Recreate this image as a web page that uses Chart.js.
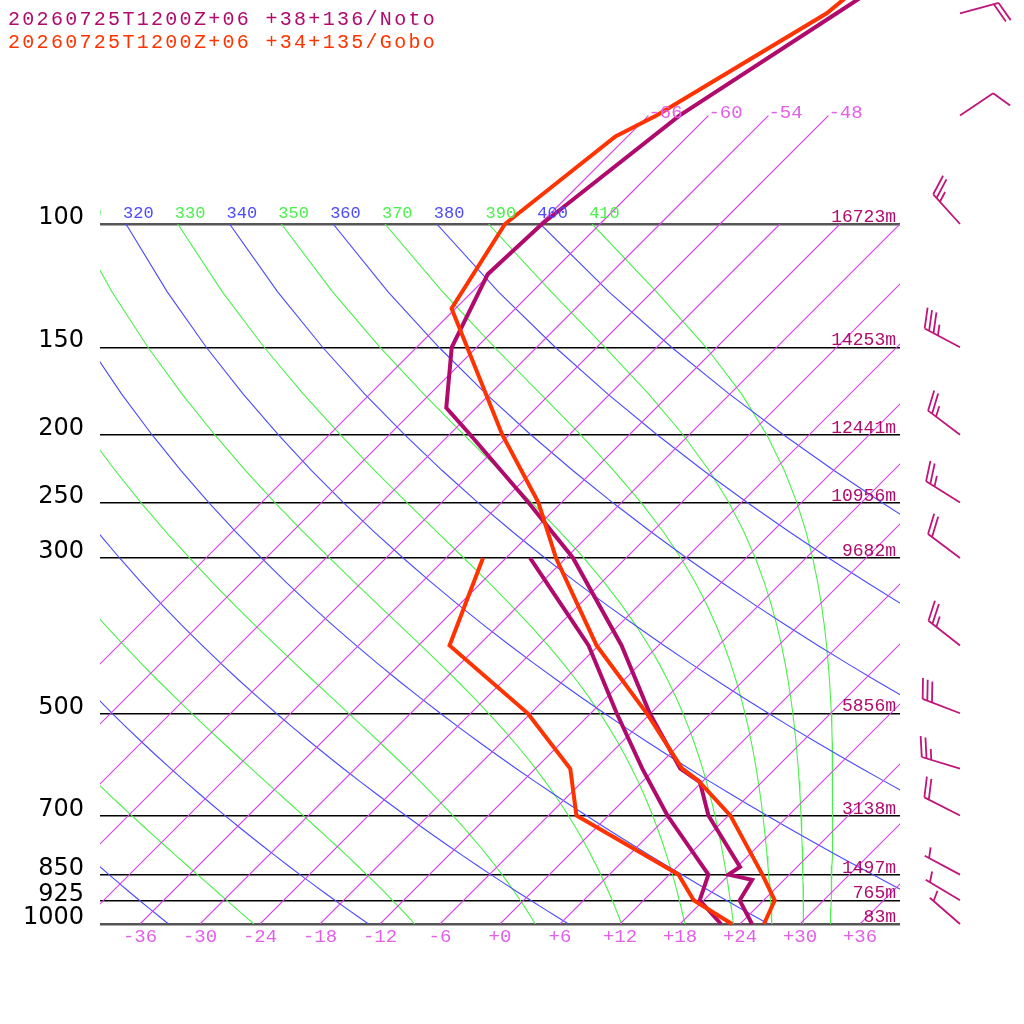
<!DOCTYPE html>
<html>
<head>
<meta charset="utf-8">
<script src="https://cdn.jsdelivr.net/npm/chart.js@4.4.1/dist/chart.umd.min.js"></script>
<style>
  html, body { margin: 0; padding: 0; background: #fff; }
  canvas { display: block; }
</style>
</head>
<body>
<canvas id="skewt" width="1024" height="1024"></canvas>
<script>
// --- данные ---
const titles = ['20260725T1200Z+06 +38+136/Noto', '20260725T1200Z+06 +34+135/Gobo'];

const levels = [1000, 925, 850, 700, 500, 300, 250, 200, 150, 100];
const levelHeights = ['83m', '765m', '1497m', '3138m', '5856m', '9682m', '10956m', '12441m', '14253m', '16723m'];

const tempTicks = [-36, -30, -24, -18, -12, -6, 0, 6, 12, 18, 24, 30, 36];
const isotherms = [-66, -60, -54, -48, -42, -36, -30, -24, -18, -12, -6, 0, 6, 12, 18, 24, 30, 36];
const upperIsotherms = [-66, -60, -54, -48];
const dryThetas = [240, 260, 280, 300, 320, 340, 360, 380, 400];
const moistThetas = [250, 270, 290, 310, 330, 350, 370, 390, 410];

// Noto (фиолетовый)
const notoTempP = [1000, 925, 865, 850, 829, 700, 627, 600, 500, 400, 300, 250, 200, 183, 150, 118, 100, 70, 50, 40];
const notoTemp  = [25.2, 21.6, 20.8, 17.9, 18.3, 10.0, 5.8, 2.5, -6.1, -15.7, -29.3, -39.3, -51.9, -57.0, -62.5, -66.2, -65.8, -62.9, -57.4, -53.8];
const notoDewP  = [1000, 925, 850, 700, 600, 500, 400, 300];
const notoDew   = [22.1, 17.6, 15.9, 5.9, -1.3, -9.4, -19.0, -33.6];

// Gobo (красный)
const goboTempP = [1000, 925, 850, 700, 623, 600, 500, 400, 300, 250, 200, 132, 100, 75, 70, 50, 40];
const goboTemp  = [26.4, 25.1, 21.3, 12.2, 5.4, 2.7, -6.4, -18.2, -31.0, -38.3, -48.7, -66.4, -69.5, -67.2, -65.2, -58.4, -56.9];
const goboDewP  = [1000, 925, 850, 700, 600, 500, 400, 300];
const goboDew   = [23.2, 17.0, 12.9, -3.2, -8.5, -18.3, -32.9, -38.3];

// ветер Noto: давление, направление (град), скорость (уз)
const windP   = [1000, 925, 850, 700, 600, 500, 400, 300, 250, 200, 150, 100, 70, 50];
const windDir = [311, 301, 298, 297, 287, 291, 308, 307, 302, 307, 298, 318, 56, 75];
const windSpd = [5, 5, 5, 20, 25, 30, 25, 20, 25, 25, 35, 25, 10, 20];

// --- оформление ---
const SKEW = 30.4;        // наклон изотерм 45 градусов
const KAPPA = 0.2857;
const BARB_X = 46;        // колонка ветра, в единицах оси x
const NOTO = '#b00a6c';
const GOBO = '#ff3300';
const ISO = 'rgb(214, 66, 232)';
const ISO_TXT = 'rgb(226, 96, 232)';
const DRY = '#4a4aff';
const MOIST = '#4cf04c';

function skewX(t, p) {
    return t + SKEW * Math.log(1000 / p);
}

function profile(ps, ts) {
    return ps.map((p, i) => ({ x: skewX(ts[i], p), y: p }));
}

function satVap(T) {
    const t = T - 273.15;
    return 6.112 * Math.exp(17.67 * t / (t + 243.5));
}

// псевдоадиабатический градиент dT/dp
function moistLapse(p, T) {
    const es = satVap(T);
    const rs = 0.622 * es / (p - es);
    const Lv = 2.501e6, Rd = 287.04, Cp = 1005.7;
    return (Rd * T + Lv * rs) / (Cp + Lv * Lv * rs * 0.622 / (Rd * T * T)) / p;
}

function moistAdiabat(theta) {
    let T = theta * Math.pow(0.1, KAPPA);
    const pts = [];
    for (let p = 100; p <= 1000; p++) {
        if (p % 25 === 0) pts.push({ x: skewX(T - 273.15, p), y: p });
        if (p === 1000) break;
        const k1 = moistLapse(p, T);
        const k2 = moistLapse(p + 0.5, T + 0.5 * k1);
        const k3 = moistLapse(p + 0.5, T + 0.5 * k2);
        const k4 = moistLapse(p + 1, T + k3);
        T += (k1 + 2 * k2 + 2 * k3 + k4) / 6;
    }
    return pts;
}

function dryAdiabat(theta) {
    const pts = [];
    for (let p = 1000; p >= 100; p -= 25) {
        pts.push({ x: skewX(theta * Math.pow(p / 1000, KAPPA) - 273.15, p), y: p });
    }
    return pts;
}

function bgLine(data, color, width) {
    return { data, borderColor: color, borderWidth: width, showLine: true, pointRadius: 0, order: 10 };
}

const datasets = [];
isotherms.forEach(t => datasets.push(bgLine([{ x: t, y: 1000 }, { x: skewX(t, 100), y: 100 }], ISO, 1.1)));
upperIsotherms.forEach(t => datasets.push(Object.assign(
    bgLine([{ x: skewX(t, 100), y: 100 }, { x: skewX(t, 70), y: 70 }], ISO, 1.1), { clip: false })));
dryThetas.forEach(th => datasets.push(bgLine(dryAdiabat(th), DRY, 1.1)));
moistThetas.forEach(th => datasets.push(bgLine(moistAdiabat(th), MOIST, 1.1)));

function sounding(data, color, order) {
    return { data, borderColor: color, borderWidth: 4, showLine: true, pointRadius: 0, clip: false, order };
}
datasets.push(sounding(profile(notoTempP, notoTemp), NOTO, 3));
datasets.push(sounding(profile(notoDewP, notoDew), NOTO, 3));
datasets.push(sounding(profile(goboTempP, goboTemp), GOBO, 2));
datasets.push(sounding(profile(goboDewP, goboDew), GOBO, 2));

// подписи, высоты, заголовки и ветер
const decor = {
    id: 'decor',
    afterDraw(chart) {
        const { ctx, chartArea: a, scales: { x, y } } = chart;
        const yTop = y.getPixelForValue(100);

        ctx.save();
        ctx.beginPath();
        ctx.rect(a.left, 0, a.right - a.left, a.top);
        ctx.clip();
        ctx.font = '17px "Liberation Mono", monospace';
        ctx.textAlign = 'left';
        ctx.textBaseline = 'alphabetic';
        dryThetas.forEach(th => {
            ctx.fillStyle = DRY;
            ctx.fillText(String(th), x.getPixelForValue(skewX(th * Math.pow(0.1, KAPPA) - 273.15, 100)) - 3, yTop - 6);
        });
        moistThetas.forEach(th => {
            ctx.fillStyle = MOIST;
            ctx.fillText(String(th), x.getPixelForValue(skewX(th * Math.pow(0.1, KAPPA) - 273.15, 100)) - 3, yTop - 6);
        });
        ctx.restore();

        ctx.save();
        ctx.font = '19px "Liberation Mono", monospace';
        ctx.fillStyle = ISO_TXT;
        upperIsotherms.forEach(t => {
            ctx.fillText(String(t), x.getPixelForValue(skewX(t, 70)), y.getPixelForValue(70) + 2);
        });

        ctx.font = '18px "Liberation Mono", monospace';
        ctx.fillStyle = NOTO;
        ctx.textAlign = 'right';
        levels.forEach((p, i) => {
            ctx.fillText(levelHeights[i], a.right - 4, y.getPixelForValue(p) - 2);
        });

        ctx.textAlign = 'left';
        ctx.font = '20px "Liberation Mono", monospace';
        ctx.letterSpacing = '2.3px';
        ctx.fillStyle = NOTO;
        ctx.fillText(titles[0], 8, 25);
        ctx.fillStyle = GOBO;
        ctx.fillText(titles[1], 8, 48);
        ctx.letterSpacing = '0px';

        // флажки ветра
        ctx.strokeStyle = '#c0157a';
        ctx.lineWidth = 1.8;
        const rot = 70 * Math.PI / 180;
        windP.forEach((p, i) => {
            const ax = x.getPixelForValue(BARB_X);
            const ay = y.getPixelForValue(p);
            const d = windDir[i] * Math.PI / 180;
            const ux = Math.sin(d), uy = -Math.cos(d);
            const bx = ux * Math.cos(rot) - uy * Math.sin(rot);
            const by = ux * Math.sin(rot) + uy * Math.cos(rot);
            const tx = ax + 40 * ux, ty = ay + 40 * uy;
            ctx.beginPath();
            ctx.moveTo(ax, ay);
            ctx.lineTo(tx, ty);
            const full = Math.floor(windSpd[i] / 10);
            const half = windSpd[i] % 10 >= 5;
            for (let k = 0; k < full; k++) {
                const sx = tx - 5 * k * ux, sy = ty - 5 * k * uy;
                ctx.moveTo(sx, sy);
                ctx.lineTo(sx + 21 * bx, sy + 21 * by);
            }
            if (half) {
                const k = full === 0 ? 1 : full;
                const sx = tx - 5 * k * ux, sy = ty - 5 * k * uy;
                ctx.moveTo(sx, sy);
                ctx.lineTo(sx + 11 * bx, sy + 11 * by);
            }
            ctx.stroke();
        });
        ctx.restore();
    }
};

new Chart(document.getElementById('skewt'), {
    type: 'scatter',
    data: { datasets },
    options: {
        responsive: false,
        animation: false,
        devicePixelRatio: 1,
        layout: { padding: { top: 224, right: 124, left: 0, bottom: 0 } },
        plugins: { legend: { display: false }, tooltip: { enabled: false } },
        scales: {
            x: {
                type: 'linear',
                min: -40,
                max: 40,
                afterBuildTicks: s => { s.ticks = tempTicks.map(v => ({ value: v })); },
                afterFit: s => { s.height = 100; },
                grid: { display: false, drawTicks: false },
                border: { display: false },
                ticks: {
                    padding: 2,
                    color: ISO_TXT,
                    font: { family: '"Liberation Mono", monospace', size: 19 },
                    maxRotation: 0,
                    autoSkip: false,
                    callback: v => v >= 0 ? '+' + v : String(v)
                }
            },
            y: {
                type: 'logarithmic',
                reverse: true,
                min: 100,
                max: 1000,
                afterBuildTicks: s => { s.ticks = levels.map(v => ({ value: v })); },
                afterFit: s => { s.width = 100; },
                grid: {
                    drawTicks: false,
                    color: c => (c.tick && (c.tick.value === 100 || c.tick.value === 1000)) ? '#555' : '#000',
                    lineWidth: c => (c.tick && (c.tick.value === 100 || c.tick.value === 1000)) ? 2.4 : 1.5
                },
                border: { display: false },
                ticks: {
                    padding: 16,
                    color: '#000',
                    labelOffset: -6,
                    font: { family: '"DejaVu Sans", sans-serif', size: 24 },
                    autoSkip: false,
                    callback: v => String(v)
                }
            }
        }
    },
    plugins: [decor]
});
</script>
</body>
</html>
